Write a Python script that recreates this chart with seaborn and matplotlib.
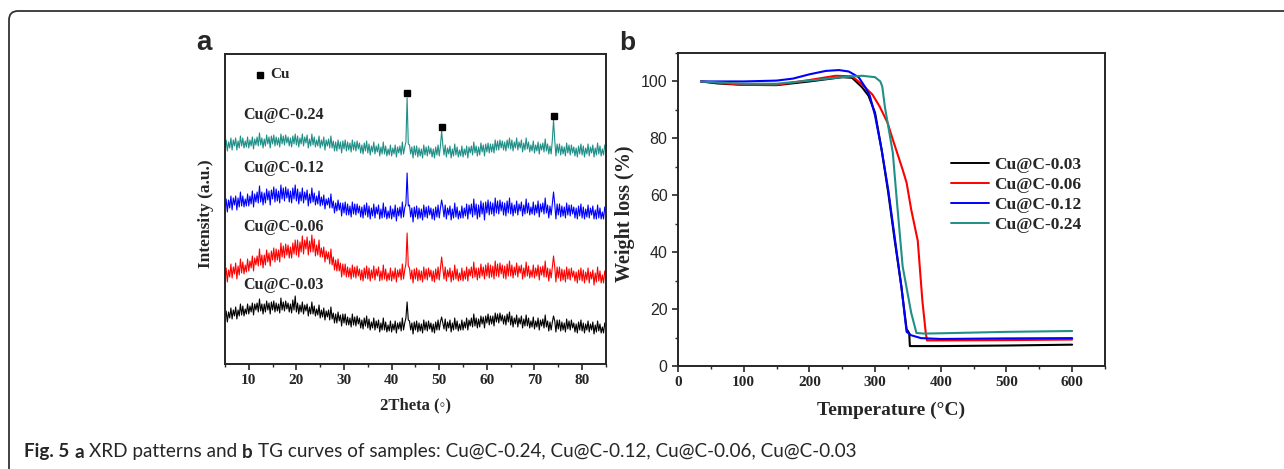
import numpy as np
import pandas as pd
import seaborn as sns
import matplotlib.pyplot as plt
from matplotlib.patches import FancyBboxPatch

# ---------------- data ----------------
# XRD scan grid (2theta, 0.25 deg step) and intensities (stacked, arbitrary units)
two_theta = np.arange(5, 85.25, 0.25)

xrd_003 = [44, 53, 42, 52, 46, 56, 45, 54, 48, 57, 45, 54, 48, 60, 49, 58, 48, 55, 50, 60,
           50, 58, 52, 61, 49, 60, 54, 61, 52, 65, 53, 60, 50, 60, 52, 63, 54, 61, 50, 62,
           54, 63, 52, 61, 53, 60, 51, 66, 54, 62, 53, 63, 55, 61, 52, 60, 51, 64, 54, 68,
           52, 61, 50, 59, 52, 62, 50, 59, 53, 60, 48, 57, 50, 62, 50, 58, 48, 55, 49, 59,
           46, 54, 47, 56, 44, 53, 47, 54, 44, 57, 45, 51, 41, 50, 41, 52, 43, 49, 38, 50,
           41, 50, 39, 47, 39, 46, 37, 50, 39, 47, 38, 48, 40, 46, 36, 44, 35, 46, 38, 48,
           36, 45, 34, 42, 36, 46, 34, 43, 36, 44, 32, 41, 34, 46, 34, 42, 32, 39, 33, 43,
           32, 40, 34, 43, 31, 41, 35, 42, 33, 46, 34, 41, 46, 62, 44, 43, 34, 41, 30, 42,
           34, 43, 32, 41, 33, 40, 31, 44, 34, 42, 33, 43, 35, 41, 32, 40, 31, 42, 34, 44,
           34, 42, 47, 41, 35, 45, 33, 42, 36, 44, 32, 41, 34, 46, 35, 43, 33, 40, 34, 44,
           34, 42, 36, 46, 34, 44, 38, 46, 37, 50, 38, 46, 36, 45, 37, 48, 40, 47, 36, 48,
           41, 50, 39, 48, 40, 48, 38, 51, 42, 50, 41, 51, 43, 49, 40, 48, 39, 50, 42, 52,
           39, 48, 37, 46, 40, 49, 37, 46, 40, 48, 36, 45, 38, 49, 38, 46, 36, 43, 37, 47,
           35, 43, 37, 46, 34, 44, 38, 45, 36, 49, 37, 43, 33, 42, 34, 42, 48, 43, 32, 44,
           35, 44, 33, 42, 34, 41, 32, 45, 35, 43, 34, 44, 36, 41, 32, 40, 31, 42, 34, 44,
           33, 41, 31, 40, 34, 43, 32, 40, 34, 42, 30, 39, 32, 43, 33, 40, 31, 37, 31, 41,
           35]

xrd_006 = [84, 96, 82, 94, 87, 100, 86, 97, 90, 101, 85, 98, 89, 105, 91, 102, 90, 99, 92, 105,
           93, 103, 96, 108, 93, 106, 99, 108, 98, 115, 99, 109, 96, 109, 99, 114, 102, 111, 98, 113,
           104, 116, 102, 115, 104, 114, 102, 121, 107, 118, 106, 120, 109, 119, 106, 117, 106, 121, 110, 124,
           109, 124, 107, 122, 112, 128, 110, 124, 115, 127, 109, 123, 112, 129, 112, 125, 108, 119, 109, 124,
           107, 116, 107, 117, 102, 113, 105, 112, 100, 115, 99, 107, 94, 104, 93, 105, 93, 101, 87, 100,
           89, 100, 87, 97, 87, 96, 85, 99, 87, 97, 86, 98, 88, 95, 84, 94, 83, 96, 86, 98,
           85, 96, 83, 94, 86, 98, 84, 95, 88, 97, 83, 93, 84, 99, 85, 95, 83, 91, 84, 96,
           83, 93, 85, 96, 82, 94, 87, 95, 84, 100, 85, 94, 100, 131, 98, 96, 85, 94, 81, 95,
           85, 96, 83, 94, 84, 93, 82, 97, 85, 95, 84, 96, 87, 94, 83, 93, 82, 95, 85, 97,
           84, 95, 107, 96, 85, 97, 83, 94, 87, 96, 82, 93, 84, 99, 85, 95, 83, 91, 84, 96,
           83, 93, 85, 97, 83, 95, 88, 97, 86, 102, 87, 96, 84, 96, 86, 100, 88, 97, 85, 99,
           88, 101, 86, 99, 87, 98, 85, 103, 88, 100, 87, 101, 90, 99, 86, 98, 85, 100, 88, 103,
           88, 99, 86, 97, 89, 101, 87, 98, 91, 99, 85, 96, 87, 102, 88, 98, 86, 94, 87, 99,
           86, 96, 88, 99, 84, 97, 89, 98, 87, 103, 87, 96, 83, 95, 86, 97, 108, 97, 82, 97,
           86, 97, 83, 95, 84, 94, 82, 97, 85, 95, 84, 96, 87, 93, 83, 92, 81, 94, 84, 96,
           83, 94, 81, 92, 84, 96, 81, 92, 85, 94, 79, 91, 82, 97, 83, 93, 81, 89, 81, 93,
           86]

xrd_012 = [154, 165, 152, 164, 156, 168, 154, 166, 159, 168, 154, 166, 157, 172, 158, 168, 157, 165, 158, 170,
           158, 168, 160, 173, 157, 170, 162, 172, 161, 178, 162, 172, 159, 171, 161, 175, 164, 173, 159, 174,
           165, 177, 162, 175, 163, 173, 161, 179, 165, 176, 163, 177, 166, 175, 162, 173, 161, 176, 165, 179,
           163, 175, 160, 172, 163, 176, 161, 172, 164, 174, 158, 170, 161, 176, 162, 171, 159, 168, 160, 173,
           158, 167, 159, 169, 155, 165, 159, 166, 156, 170, 156, 163, 151, 161, 153, 164, 154, 161, 148, 161,
           151, 162, 149, 160, 149, 158, 147, 162, 150, 160, 149, 160, 151, 158, 147, 157, 146, 159, 149, 161,
           147, 158, 145, 156, 148, 160, 146, 157, 150, 159, 145, 155, 146, 161, 147, 157, 145, 153, 146, 158,
           145, 155, 147, 159, 143, 156, 148, 157, 146, 162, 147, 156, 160, 191, 158, 159, 147, 156, 142, 157,
           147, 158, 145, 156, 146, 155, 144, 159, 147, 157, 146, 158, 149, 156, 145, 155, 144, 157, 147, 159,
           146, 156, 164, 157, 147, 159, 145, 156, 149, 158, 144, 155, 146, 161, 147, 157, 145, 153, 146, 158,
           146, 156, 148, 160, 145, 159, 150, 160, 147, 165, 149, 160, 145, 159, 147, 163, 150, 161, 144, 162,
           151, 164, 149, 162, 150, 161, 148, 166, 151, 163, 150, 164, 153, 162, 149, 161, 148, 163, 151, 166,
           150, 161, 148, 159, 151, 163, 149, 160, 153, 162, 148, 159, 150, 165, 151, 161, 149, 157, 150, 162,
           149, 159, 151, 163, 147, 160, 152, 161, 150, 166, 151, 159, 146, 158, 149, 161, 172, 160, 145, 160,
           149, 160, 147, 158, 148, 157, 146, 161, 149, 159, 148, 159, 150, 157, 146, 156, 145, 158, 148, 160,
           146, 157, 145, 155, 147, 159, 146, 156, 149, 158, 145, 154, 145, 159, 146, 156, 145, 152, 145, 157,
           150]

xrd_024 = [215, 224, 213, 222, 216, 226, 214, 224, 218, 226, 214, 223, 216, 228, 218, 226, 216, 223, 217, 227,
           216, 224, 218, 227, 215, 225, 219, 227, 218, 231, 219, 226, 216, 225, 218, 229, 220, 227, 216, 228,
           220, 229, 218, 227, 219, 226, 217, 230, 220, 228, 219, 229, 221, 227, 218, 226, 217, 228, 220, 230,
           219, 228, 217, 226, 220, 230, 218, 227, 221, 229, 216, 225, 218, 230, 219, 227, 217, 224, 218, 228,
           216, 224, 218, 227, 214, 224, 218, 225, 216, 228, 216, 223, 213, 222, 213, 224, 215, 222, 211, 223,
           215, 224, 213, 222, 214, 221, 212, 224, 214, 222, 213, 223, 215, 221, 211, 219, 210, 221, 213, 223,
           211, 220, 209, 218, 212, 222, 210, 218, 212, 220, 208, 217, 210, 222, 210, 218, 208, 215, 209, 219,
           208, 216, 210, 219, 207, 217, 211, 218, 209, 222, 210, 217, 222, 266, 220, 219, 210, 217, 206, 218,
           209, 218, 207, 216, 208, 215, 206, 219, 209, 217, 208, 218, 210, 216, 207, 215, 206, 217, 209, 219,
           208, 218, 233, 219, 209, 219, 207, 216, 210, 218, 206, 215, 208, 220, 209, 217, 207, 214, 208, 218,
           207, 215, 209, 218, 206, 217, 211, 218, 209, 222, 211, 218, 208, 217, 209, 221, 212, 219, 208, 220,
           212, 221, 211, 220, 212, 220, 211, 224, 214, 223, 214, 224, 216, 223, 214, 222, 213, 224, 216, 226,
           215, 224, 213, 222, 216, 226, 214, 222, 216, 224, 212, 221, 214, 226, 215, 222, 212, 219, 213, 223,
           211, 219, 213, 222, 210, 220, 214, 221, 212, 225, 213, 220, 210, 218, 210, 224, 244, 224, 208, 220,
           211, 220, 209, 218, 210, 217, 208, 221, 211, 219, 209, 219, 211, 217, 208, 216, 207, 218, 210, 220,
           209, 218, 207, 216, 210, 220, 208, 217, 211, 219, 207, 216, 209, 221, 210, 218, 208, 215, 209, 219,
           213]

xrd_names = ['Cu@C-0.03', 'Cu@C-0.06', 'Cu@C-0.12', 'Cu@C-0.24']
xrd_label_y = [79, 137, 196, 249]
cu_peak_x = [43.25, 50.5, 74.0]
cu_peak_y = [271, 237, 248]

# TG curves
tg_T_003 = [35, 60, 100, 150, 200, 250, 265, 280, 290, 300, 310, 320, 330, 340, 348, 352, 353, 400, 500, 600]
tg_W_003 = [100, 99.3, 98.8, 98.7, 100, 101.5, 101.3, 98, 95, 89, 76, 61, 44, 28, 13, 11.5, 7, 7, 7.2, 7.5]
tg_T_006 = [35, 100, 150, 200, 240, 265, 280, 296, 307, 319, 327, 342, 348, 355, 365, 372, 377, 379, 400, 500, 600]
tg_W_006 = [100, 98.8, 98.8, 100.5, 102, 101.8, 99, 95.4, 91.2, 85.5, 79.6, 69, 64.4, 55, 44, 23, 12, 9, 9, 9.1, 9.3]
tg_T_012 = [35, 100, 150, 175, 200, 225, 245, 260, 275, 285, 292, 300, 310, 320, 330, 340, 348, 355, 370, 400, 500, 600]
tg_W_012 = [100, 100, 100.3, 101, 102.5, 103.7, 104, 103.5, 101.5, 98, 95, 88, 76, 62, 45, 28, 12, 10.8, 9.8, 9.5, 9.7, 9.8]
tg_T_024 = [35, 100, 150, 200, 250, 280, 300, 308, 311, 315, 327, 333, 342, 355, 363, 375, 400, 500, 600]
tg_W_024 = [100, 99.2, 99.2, 100.3, 101.5, 102, 101.5, 100, 98.2, 91, 75, 58.5, 35, 18.7, 11.6, 11.4, 11.5, 12, 12.3]

colors = ['#000000', '#ff0000', '#0000ff', '#1f8f87']

# ---------------- style ----------------
sns.set_style('ticks')
plt.rcParams['font.family'] = ['Liberation Serif', 'DejaVu Serif']
plt.rcParams['axes.linewidth'] = 1.4
plt.rcParams['xtick.major.width'] = 1.2
plt.rcParams['ytick.major.width'] = 1.2
plt.rcParams['xtick.minor.width'] = 1.0
plt.rcParams['ytick.minor.width'] = 1.0
plt.rcParams['xtick.direction'] = 'out'
plt.rcParams['ytick.direction'] = 'out'

fig = plt.figure(figsize=(12.84, 4.69), dpi=100)

# background layer in pixel coords: frame + caption
bg = fig.add_axes([0, 0, 1, 1])
bg.set_xlim(0, 1284)
bg.set_ylim(469, 0)
bg.axis('off')
bg.add_patch(FancyBboxPatch((9, 11), 1320, 480, boxstyle='round,pad=0,rounding_size=9',
                            fc='none', ec='#333333', lw=1.3))

cap_font = ['Lato', 'DejaVu Sans']
t = bg.text(24, 452, 'Fig. 5', fontsize=13.6, fontweight='bold', family=cap_font, va='center')
for txt, w in [('a', 'bold'), ('XRD patterns and', 'normal'), ('b', 'bold'),
               ('TG curves of samples: Cu@C-0.24, Cu@C-0.12, Cu@C-0.06, Cu@C-0.03', 'normal')]:
    t = bg.annotate(txt, xy=(1, 0.5), xycoords=t, xytext=(3.6, 0), textcoords='offset points',
                    fontsize=13.6, fontweight=w, family=cap_font, va='center')

# ---------------- panel a: XRD ----------------
ax1 = fig.add_axes([0.1752, 0.2239, 0.2967, 0.661])
for vals, c in zip([xrd_003, xrd_006, xrd_012, xrd_024], colors):
    sns.lineplot(x=two_theta, y=vals, ax=ax1, color=c, linewidth=0.8, sort=False)
for name, ly in zip(xrd_names, xrd_label_y):
    ax1.text(8.8, ly, name, fontsize=11.5, fontweight='bold', va='center')
ax1.plot(cu_peak_x, cu_peak_y, 's', color='black', markersize=4.5)
ax1.plot([12.3], [289], 's', color='black', markersize=4.5)
ax1.text(14.6, 289, 'Cu', fontsize=11, fontweight='bold', va='center')
ax1.set_xlim(5, 85)
ax1.set_ylim(0, 310)
ax1.set_xticks([10, 20, 30, 40, 50, 60, 70, 80])
ax1.set_xticks(np.arange(5, 86, 5), minor=True)
ax1.set_yticks([])
ax1.tick_params(axis='x', which='major', length=4, labelsize=11)
ax1.tick_params(axis='x', which='minor', length=2.5)
for lab in ax1.get_xticklabels():
    lab.set_fontweight('bold')
ax1.set_xlabel('2Theta (\u25e6)', fontsize=12, fontweight='bold', labelpad=7)
ax1.set_ylabel('Intensity (a.u.)', fontsize=12.5, fontweight='bold')
ax1.yaxis.set_label_coords(-0.03, 0.485)
for s in ax1.spines.values():
    s.set_visible(True)
fig.text(0.153, 0.893, 'a', fontsize=20, fontweight='bold', family=['Liberation Sans', 'DejaVu Sans'])

# ---------------- panel b: TG ----------------
ax2 = fig.add_axes([0.5280, 0.2196, 0.3326, 0.6674])
tg = pd.concat([
    pd.DataFrame({'T': tg_T_003, 'W': tg_W_003, 'sample': 'Cu@C-0.03'}),
    pd.DataFrame({'T': tg_T_006, 'W': tg_W_006, 'sample': 'Cu@C-0.06'}),
    pd.DataFrame({'T': tg_T_012, 'W': tg_W_012, 'sample': 'Cu@C-0.12'}),
    pd.DataFrame({'T': tg_T_024, 'W': tg_W_024, 'sample': 'Cu@C-0.24'}),
])
sns.lineplot(data=tg, x='T', y='W', hue='sample', hue_order=xrd_names, palette=colors,
             ax=ax2, linewidth=1.5, sort=False, estimator=None)
ax2.set_xlim(0, 650)
ax2.set_ylim(0, 110)
ax2.set_xticks([0, 100, 200, 300, 400, 500, 600])
ax2.set_xticks(np.arange(0, 651, 50), minor=True)
ax2.set_yticks([0, 20, 40, 60, 80, 100])
ax2.set_yticks(np.arange(0, 111, 10), minor=True)
ax2.tick_params(which='major', length=4, labelsize=11)
ax2.tick_params(which='minor', length=2.5)
for lab in ax2.get_xticklabels():
    lab.set_fontweight('bold')
for lab in ax2.get_yticklabels():
    lab.set_family(['Liberation Sans', 'DejaVu Sans'])
    lab.set_fontsize(11.5)
ax2.set_xlabel('Temperature (\u00b0C)', fontsize=14, fontweight='bold', labelpad=9)
ax2.set_ylabel('Weight loss (%)', fontsize=14.5, fontweight='bold')
ax2.yaxis.set_label_coords(-0.1, 0.485)
for s in ax2.spines.values():
    s.set_visible(True)
leg = ax2.legend(loc='upper left', bbox_to_anchor=(0.622, 0.69), frameon=False,
                 prop={'weight': 'bold', 'size': 12.5}, handlelength=2.2,
                 handletextpad=0.3, labelspacing=0.22, borderaxespad=0)
for h in leg.get_lines():
    h.set_linewidth(1.4)
fig.text(0.482, 0.893, 'b', fontsize=19, fontweight='bold', family=['Liberation Sans', 'DejaVu Sans'])

fig.savefig('out.png', dpi=100)
